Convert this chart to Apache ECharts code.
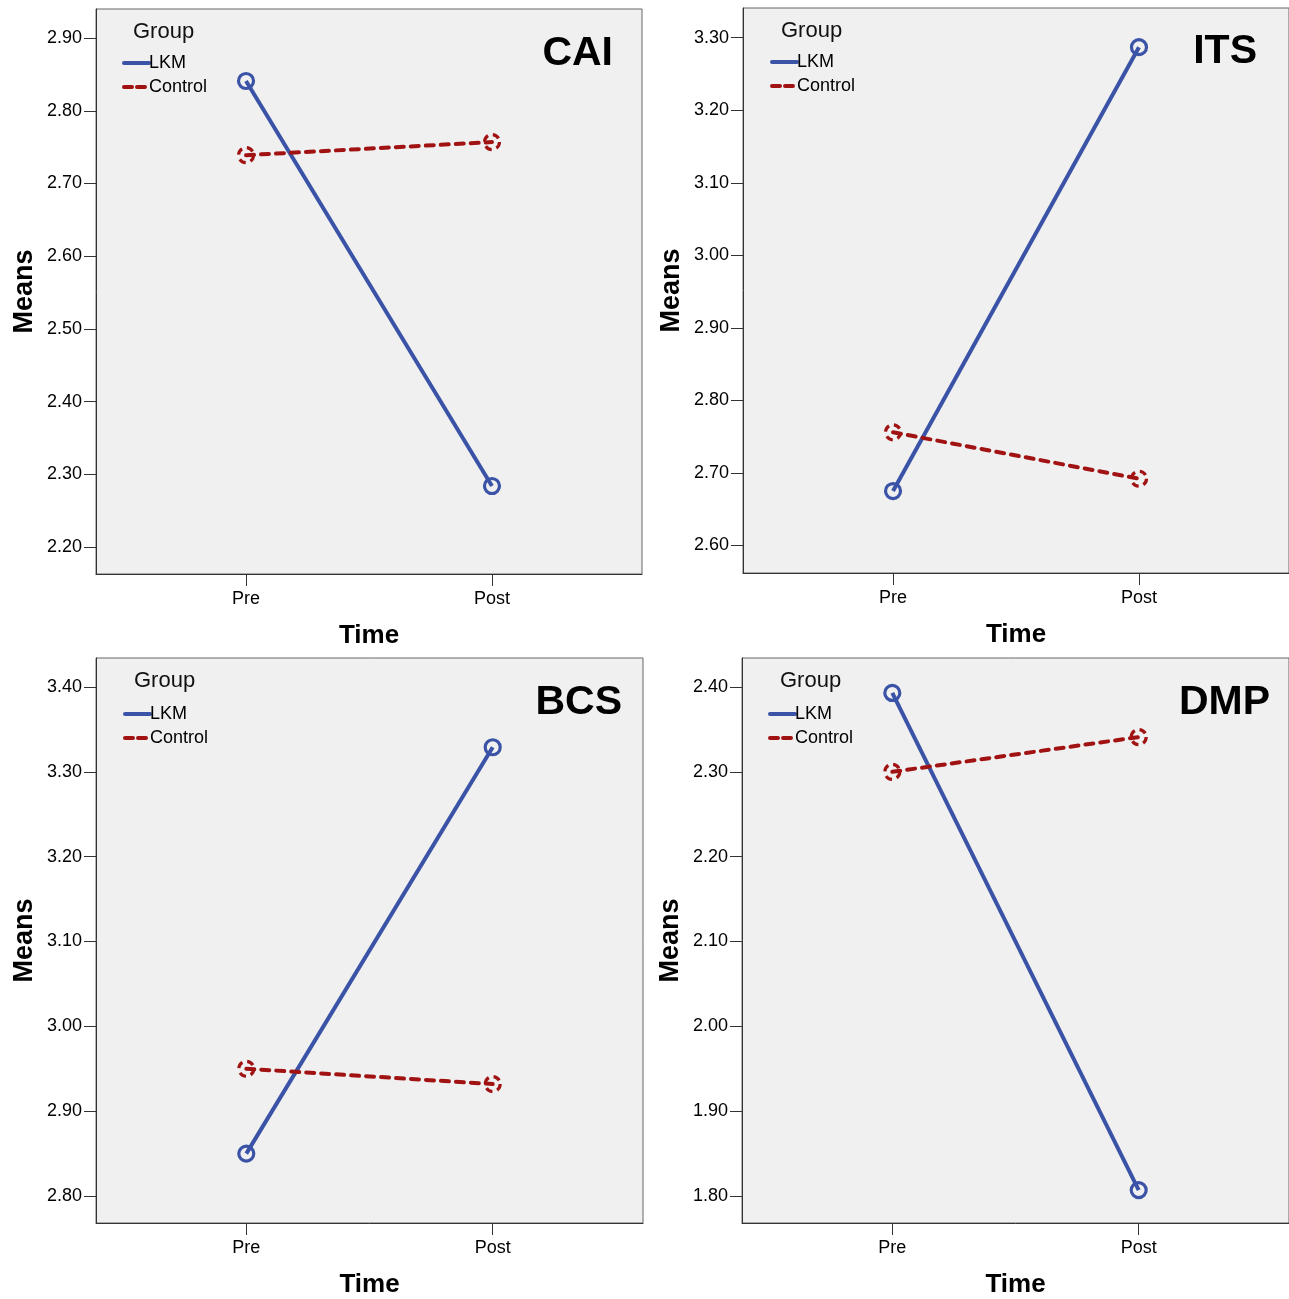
<!DOCTYPE html>
<html><head><meta charset="utf-8">
<script src="https://cdn.jsdelivr.net/npm/echarts@6/dist/echarts.min.js"></script>
<style>html,body{margin:0;padding:0;background:#fff}#c{width:1289px;height:1299px}</style>
</head><body><div id="c"></div>
<script>
// ---- data ----
const timeCategories = ['Pre', 'Post'];
const groupNames = ['LKM', 'Control'];
const panelTitles = ['CAI', 'ITS', 'BCS', 'DMP'];
const legendTitle = 'Group';
const caiLKM = [2.841, 2.284];
const caiControl = [2.739, 2.757];
const itsLKM = [2.675, 3.287];
const itsControl = [2.756, 2.692];
const bcsLKM = [2.850, 3.329];
const bcsControl = [2.950, 2.932];
const dmpLKM = [2.393, 1.807];
const dmpControl = [2.300, 2.341];
const caiTicks = [2.20, 2.30, 2.40, 2.50, 2.60, 2.70, 2.80, 2.90];
const itsTicks = [2.60, 2.70, 2.80, 2.90, 3.00, 3.10, 3.20, 3.30];
const bcsTicks = [2.80, 2.90, 3.00, 3.10, 3.20, 3.30, 3.40];
const dmpTicks = [1.80, 1.90, 2.00, 2.10, 2.20, 2.30, 2.40];

// ---- layout ----
const FONT = '"Liberation Sans", Arial, sans-serif';
const BLUE = '#3a53a6';
const RED = '#a11313';
const panels = [
  {title: panelTitles[0], lkm: caiLKM, ctl: caiControl, ticks: caiTicks, yMin: 2.163, yMax: 2.94,
   grid: {left: 96, top: 9, width: 546, height: 565}, tRight: 676, tTop: 33, gLeft: 133, gTop: 21, lLeft: 122, lTop: 54},
  {title: panelTitles[1], lkm: itsLKM, ctl: itsControl, ticks: itsTicks, yMin: 2.562, yMax: 3.341,
   grid: {left: 743, top: 8, width: 546, height: 565}, tRight: 32, tTop: 31, gLeft: 781, gTop: 20, lLeft: 770, lTop: 53},
  {title: panelTitles[2], lkm: bcsLKM, ctl: bcsControl, ticks: bcsTicks, yMin: 2.7682, yMax: 3.4342,
   grid: {left: 96, top: 658, width: 547, height: 565}, tRight: 667, tTop: 682, gLeft: 134, gTop: 670, lLeft: 123, lTop: 705},
  {title: panelTitles[3], lkm: dmpLKM, ctl: dmpControl, ticks: dmpTicks, yMin: 1.7682, yMax: 2.4342,
   grid: {left: 742, top: 658, width: 547, height: 565}, tRight: 19, tTop: 682, gLeft: 780, gTop: 670, lLeft: 768, lTop: 705}
];

const option = {
  animation: false,
  backgroundColor: '#fff',
  textStyle: {fontFamily: FONT},
  grid: [], xAxis: [], yAxis: [], series: [], title: [], legend: []
};

panels.forEach((p, i) => {
  option.grid.push(Object.assign({show: true, backgroundColor: '#f0f0f0', borderColor: '#666', borderWidth: 1}, p.grid));
  option.xAxis.push({
    type: 'value', gridIndex: i, min: -0.61, max: 1.61,
    axisLine: {show: true, onZero: false, lineStyle: {color: '#333', width: 1}},
    axisTick: {show: true, length: 12, customValues: [0, 1], lineStyle: {color: '#333'}},
    axisLabel: {customValues: [0, 1], formatter: v => timeCategories[Math.round(v)], fontSize: 18, color: '#000', margin: 16, fontFamily: FONT},
    splitLine: {show: false},
    name: 'Time', nameLocation: 'middle', nameGap: 49,
    nameTextStyle: {fontSize: 26, fontWeight: 'bold', color: '#000', fontFamily: FONT}
  });
  option.yAxis.push({
    type: 'value', gridIndex: i, min: p.yMin, max: p.yMax,
    axisLine: {show: true, onZero: false, lineStyle: {color: '#333', width: 1}},
    axisTick: {show: true, length: 12, customValues: p.ticks, lineStyle: {color: '#333'}},
    axisLabel: {customValues: p.ticks, formatter: v => v.toFixed(2), fontSize: 18, color: '#000', margin: 14, fontFamily: FONT},
    splitLine: {show: false},
    name: 'Means', nameLocation: 'middle', nameGap: 58, nameRotate: 90,
    nameTextStyle: {fontSize: 27, fontWeight: 'bold', color: '#000', fontFamily: FONT}
  });
  option.series.push({
    name: groupNames[0], type: 'line', xAxisIndex: i, yAxisIndex: i,
    data: p.lkm.map((v, j) => [j, v]),
    symbol: 'circle', symbolSize: 15,
    itemStyle: {color: 'rgba(0,0,0,0)', borderColor: BLUE, borderWidth: 3.2},
    lineStyle: {color: BLUE, width: 4},
    z: 2
  });
  option.series.push({
    name: groupNames[1], type: 'line', xAxisIndex: i, yAxisIndex: i,
    data: p.ctl.map((v, j) => [j, v]),
    symbol: 'circle', symbolSize: 15,
    itemStyle: {color: 'rgba(0,0,0,0)', borderColor: RED, borderWidth: 3.2, borderType: [7, 5]},
    lineStyle: {color: RED, width: 4, type: [8, 7], cap: 'round'},
    z: 3
  });
  option.title.push({
    text: p.title, right: p.tRight, top: p.tTop, padding: 0,
    textStyle: {fontSize: 41, fontWeight: 'bold', color: '#000', fontFamily: FONT}
  });
  option.title.push({
    text: legendTitle, left: p.gLeft, top: p.gTop, padding: 0,
    textStyle: {fontSize: 22, fontWeight: 'normal', color: '#111', fontFamily: FONT}
  });
  option.legend.push({
    orient: 'vertical', left: p.lLeft, top: p.lTop, padding: 0,
    itemWidth: 25, itemHeight: 14, itemGap: 6, selectedMode: false,
    itemStyle: {color: 'rgba(0,0,0,0)', borderWidth: 0},
    textStyle: {fontSize: 18, color: '#000', fontFamily: FONT, padding: [3, 0, 0, -5]},
    data: [
      {name: groupNames[0], lineStyle: {color: BLUE, width: 4, cap: 'round'}},
      {name: groupNames[1], lineStyle: {color: RED, width: 4, type: [8, 5], cap: 'round'}}
    ]
  });
});

const chart = echarts.init(document.getElementById('c'), null, {renderer: 'canvas'});
chart.setOption(option);
</script>
</body></html>
